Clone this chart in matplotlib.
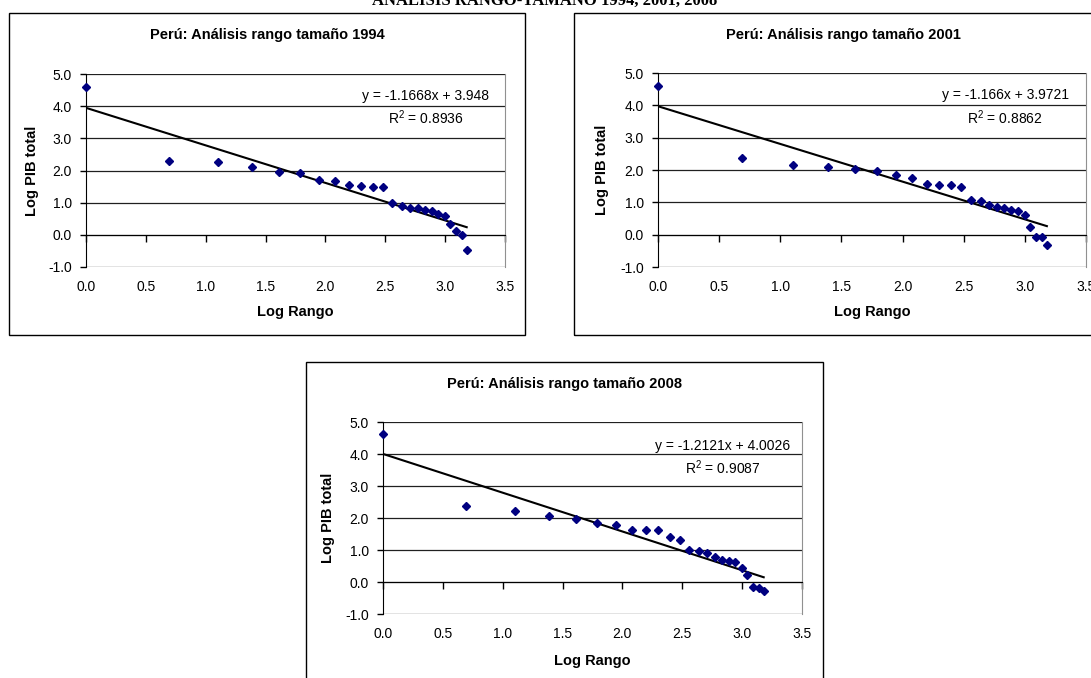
import numpy as np
import matplotlib
matplotlib.use('Agg')
import matplotlib.pyplot as plt
from matplotlib.patches import Rectangle

plt.rcParams['font.family'] = ['Liberation Sans', 'DejaVu Sans']
plt.rcParams['mathtext.fontset'] = 'custom'
plt.rcParams['mathtext.rm'] = 'Liberation Sans'
plt.rcParams['axes.unicode_minus'] = False

# Log of the rank (x) and log of total GDP (y) for each year
log_rango = [0.00, 0.69, 1.10, 1.39, 1.61, 1.79, 1.95, 2.08, 2.20, 2.30, 2.40, 2.48,
             2.56, 2.64, 2.71, 2.77, 2.83, 2.89, 2.94, 3.00, 3.04, 3.09, 3.14, 3.18]
log_pib_1994 = [4.60, 2.29, 2.25, 2.12, 1.96, 1.92, 1.72, 1.66, 1.54, 1.51, 1.49, 1.49,
                1.00, 0.89, 0.83, 0.83, 0.77, 0.75, 0.66, 0.57, 0.33, 0.11, -0.02, -0.46]
log_pib_2001 = [4.60, 2.36, 2.16, 2.08, 2.02, 1.98, 1.85, 1.76, 1.56, 1.53, 1.53, 1.48,
                1.08, 1.05, 0.92, 0.87, 0.82, 0.76, 0.74, 0.62, 0.25, -0.08, -0.08, -0.31]
log_pib_2008 = [4.61, 2.38, 2.22, 2.05, 1.97, 1.83, 1.77, 1.64, 1.64, 1.61, 1.41, 1.30,
                0.99, 0.96, 0.90, 0.78, 0.70, 0.65, 0.62, 0.44, 0.22, -0.16, -0.19, -0.29]

years = ['1994', '2001', '2008']
slopes = [-1.1668, -1.166, -1.2121]
intercepts = [3.948, 3.9721, 4.0026]
eq_labels = ['y = -1.1668x + 3.948', 'y = -1.166x + 3.9721', 'y = -1.2121x + 4.0026']
r2_labels = ['0.8936', '0.8862', '0.9087']

y_ticks = [-1, 0, 1, 2, 3, 4, 5]
x_ticks = [0.0, 0.5, 1.0, 1.5, 2.0, 2.5, 3.0, 3.5]

W, H = 1091, 678
fig = plt.figure(figsize=(W / 100, H / 100), dpi=100)


def px_rect(x0, y0, x1, y1):
    return [x0 / W, 1 - y1 / H, (x1 - x0) / W, (y1 - y0) / H]


# layout in pixels: chart box, plot area, y-label x, eq y, r2 y
panels = [
    dict(box=(9, 13, 525, 335), plot=(86, 74, 505, 267), ylab_x=32, eq_y=4.33, r2_y=3.63),
    dict(box=(574, 13, 1112, 335), plot=(658, 73, 1086, 267), ylab_x=602, eq_y=4.33, r2_y=3.63),
    dict(box=(306, 362, 823, 690), plot=(383, 422, 802, 614), ylab_x=328, eq_y=4.24, r2_y=3.56),
]
series = [log_pib_1994, log_pib_2001, log_pib_2008]

fig.text(545 / W, 1 - 1 / H, 'ANÁLISIS RANGO-TAMAÑO 1994, 2001, 2008',
         family='Liberation Serif', fontweight='bold', fontsize=12,
         ha='center', va='center')

for p, ys, year, m, b, eq, r2 in zip(panels, series, years, slopes, intercepts,
                                     eq_labels, r2_labels):
    bx0, by0, bx1, by1 = p['box']
    fig.patches.append(Rectangle((bx0 / W, 1 - by1 / H), (bx1 - bx0) / W, (by1 - by0) / H,
                                 transform=fig.transFigure, fill=False,
                                 edgecolor='black', linewidth=1.0))
    fig.text((bx0 + bx1) / 2 / W, 1 - (by0 + 22) / H, 'Perú: Análisis rango tamaño ' + year,
             fontsize=10.5, fontweight='bold', ha='center', va='center')

    px0, py0, px1, py1 = p['plot']
    ax = fig.add_axes(px_rect(px0, py0, px1, py1))
    ax.set_xlim(0, 3.5)
    ax.set_ylim(-1, 5)

    # gridlines and plot area border
    for yv in y_ticks:
        ax.axhline(yv, color='#202020', linewidth=0.9, zorder=1)
    ax.spines['right'].set_color('#909090')
    ax.spines['top'].set_visible(False)
    ax.spines['left'].set_color('black')
    ax.spines['left'].set_zorder(3)

    # x axis crossing at y = 0, labels low
    ax.spines['bottom'].set_position(('data', 0))
    ax.spines['bottom'].set_color('black')
    ax.set_xticks(x_ticks)
    ax.tick_params(axis='x', direction='out', length=5, width=1, color='black',
                   labelbottom=False)
    sec = ax.secondary_xaxis(0)
    sec.set_xticks(x_ticks)
    sec.set_xticklabels(['%.1f' % v for v in x_ticks])
    sec.tick_params(length=0, pad=9, labelsize=10)
    sec.spines['bottom'].set_visible(False)

    ax.set_yticks(y_ticks)
    ax.set_yticklabels(['%.1f' % v for v in y_ticks])
    ax.tick_params(axis='y', direction='out', length=4, width=1, pad=6, labelsize=10)

    # data points and trend line
    ax.plot(log_rango, ys, linestyle='none', marker='D', markersize=3.6,
            color='#000080', zorder=5, clip_on=False)
    xt = np.array([log_rango[0], log_rango[-1]])
    ax.plot(xt, m * xt + b, color='black', linewidth=1.5, zorder=4)

    ax.text(2.84, p['eq_y'], eq, fontsize=10, ha='center', va='center')
    ax.text(2.84, p['r2_y'], 'R$^2$ = ' + r2, fontsize=10, ha='center', va='center')

    fig.text((px0 + px1) / 2 / W, 1 - (by0 + 299) / H, 'Log Rango',
             fontsize=10.5, fontweight='bold', ha='center', va='center')
    fig.text(p['ylab_x'] / W, 1 - (py0 + py1) / 2 / H, 'Log PIB total',
             fontsize=10.5, fontweight='bold', ha='center', va='center', rotation=90)

fig.savefig('out.png', dpi=100)
